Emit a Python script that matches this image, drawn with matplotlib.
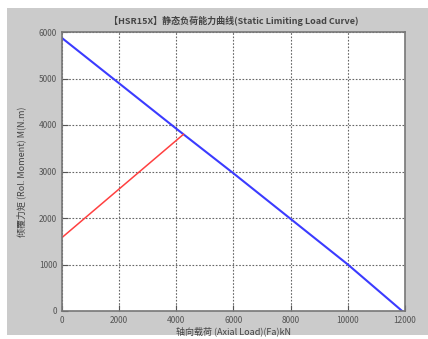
import matplotlib
matplotlib.use("Agg")
import matplotlib.pyplot as plt

plt.rcParams['font.family'] = ['Noto Sans CJK SC', 'DejaVu Sans']

blue_x = [0, 4000, 6000, 8000, 10000, 11900]
blue_y = [5870, 3920, 2960, 1980, 1000, 0]
red_x = [0, 4250]
red_y = [1580, 3800]
x_ticks = [0, 2000, 4000, 6000, 8000, 10000, 12000]
y_ticks = [0, 1000, 2000, 3000, 4000, 5000, 6000]
title = "【HSR15X】静态负荷能力曲线(Static Limiting Load Curve)"
xlabel = "轴向载荷 (Axial Load)(Fa)kN"
ylabel = "倾覆力矩 (Rol. Moment) M(N.m)"

fig = plt.figure(figsize=(4.28, 3.39), dpi=100)
fig.patch.set_facecolor('white')
bg = fig.add_axes([7/428, 4/339, 1 - 7/428, (335 - 8)/339], zorder=-10)
bg.set_facecolor('#cbcbcb')
bg.set_xticks([]); bg.set_yticks([])
for s in bg.spines.values():
    s.set_visible(False)

ax = fig.add_axes([62/428, 28/339, (405-62)/428, (311-32)/339], zorder=1)
ax.set_facecolor('white')
ax.plot(blue_x, blue_y, color='#3b3bff', lw=1.5)
ax.plot(red_x, red_y, color='#ff4040', lw=1.1)
ax.set_xlim(0, 12000)
ax.set_ylim(0, 6000)
ax.set_xticks(x_ticks)
ax.set_yticks(y_ticks)
ax.grid(True, color='#666666', linestyle=(0, (1.5, 1.5)), linewidth=0.8)
ax.tick_params(direction='in', labelsize=6, colors='#555555', length=4, labelcolor='#555555')
for s in ax.spines.values():
    s.set_color('#777777')
    s.set_linewidth(1.2)
ax.set_title(title, fontsize=6.5, color='#444444', pad=6, fontweight='bold')
ax.set_xlabel(xlabel, fontsize=6.5, color='#444444', labelpad=1)
ax.set_ylabel(ylabel, fontsize=6.5, color='#444444', labelpad=9)
fig.savefig("out.png", dpi=100)
